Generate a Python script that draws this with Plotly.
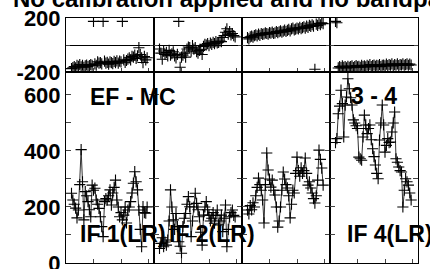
import plotly.graph_objects as go
from plotly.subplots import make_subplots

channels = list(range(4, 60))

panel_labels = ["IF 1(LR)", "IF 2(LR)", "", "IF 4(LR)"]

amp_if1 = [249, 225, 210, 196, 161, 189, 280, 405, 290, 154, 255, 240, 219, 190, 165, 278,
           260, 267, 225, 210, 195, 165, 130, 94, 219, 230, 225, 240, 261, 207, 250, 270,
           296, 225, 200, 165, 180, 154, 171, 200, 143, 189, 200, 219, 250, 285, 326, 290,
           261, 189, 120, 58, 201, 180, 178, 200]
amp_if2 = [52, 70, 90, 58, 75, 64, 82, 150, 261, 200, 154, 120, 177, 130, 76, 60,
           35, 130, 160, 177, 210, 237, 201, 94, 150, 200, 249, 213, 190, 165, 110, 64,
           171, 200, 219, 190, 171, 150, 160, 180, 142, 170, 189, 136, 150, 171, 112, 160,
           207, 58, 120, 165, 180, 189, 170, 165]
amp_if3 = [189, 175, 205, 190, 215, 200, 240, 270, 303, 280, 260, 225, 143, 280, 393, 332,
           300, 271, 296, 260, 243, 200, 128, 150, 200, 260, 325, 300, 280, 268, 240, 161,
           210, 260, 250, 320, 378, 330, 310, 340, 320, 330, 375, 320, 278, 290, 268, 250,
           230, 214, 240, 296, 403, 370, 339, 278]
amp_if4 = [430, 444, 533, 560, 617, 569, 450, 564, 593, 658, 622, 590, 564, 511, 500, 490,
           480, 378, 372, 367, 450, 528, 493, 462, 480, 493, 440, 408, 380, 350, 320, 301,
           439, 500, 564, 493, 396, 420, 444, 430, 432, 468, 500, 539, 372, 360, 343, 330,
           325, 200, 260, 301, 290, 278, 250, 225]

ph_if1 = [-175, -168, -160, -170, -150, -158, -145, -162, -150, -165, -155, -148, -160, -152, -145, -150,
          175, -140, -150, -125, -135, -130, -140, 175, -120, -135, -128, -142, -125, -130, -138, -122,
          -130, -118, -135, -120, -125, 175, -110, -128, -115, -105, -95, -110, -85, -90, -75, -100,
          -80, -20, -70, -95, -130, -85, -110, -95]
ph_if2 = [-30, -60, -105, -45, -70, -55, -80, -40, -75, -65, -50, -80, -95, -70, 175, -165,
          -90, -75, -60, -90, -30, -15, -20, -45, -5, -30, -20, -50, -60, -40, -35, -70,
          -10, 5, 0, 10, -5, 15, 5, 20, 10, 25, 15, 20, 30, 25, 55, 70,
          95, 120, 80, 100, 75, 85, 70, 60]
ph_if3 = [55, 45, 60, 65, 58, 70, 75, 68, 80, 72, 85, 78, 82, 90, 85, 80,
          92, 88, 95, 85, 90, 100, 92, 98, 105, 95, 102, 110, 100, 108, 115, 105,
          120, 125, 112, 118, 125, 120, 130, 122, 128, 135, 125, 140, 130, 145, 138, 150,
          140, -180, 155, 145, 160, 150, 165, 158]
ph_if4 = [175, 165, -170, -160, -168, -155, -165, -160, -170, -158, -165, -160, -155, -168, -160, -152,
          -162, -158, -165, -150, -160, -155, -162, -150, -158, -145, -160, -152, -148, -158, -150, -155,
          -145, -160, -150, -148, -155, -142, -152, -145, -150, -140, -155, -145, -150, -140, -152, -145,
          -148, -140, -150, -145, -140, -150, -142, -148]

amps = [amp_if1, amp_if2, amp_if3, amp_if4]
phases = [ph_if1, ph_if2, ph_if3, ph_if4]

title_text = "No calibration applied and no bandpass applied"
baseline_label = "EF - MC"
baseline_label2 = "3 - 4"

fig = make_subplots(rows=2, cols=4, row_heights=[54, 191],
                    horizontal_spacing=0, vertical_spacing=0)

mk = dict(symbol="cross-thin", size=8, line=dict(color="black", width=1.1), color="black")

for i in range(4):
    fig.add_trace(go.Scatter(x=channels, y=phases[i], mode="markers", marker=mk,
                             showlegend=False), row=1, col=i + 1)
    fig.add_trace(go.Scatter(x=channels, y=amps[i], mode="lines+markers", marker=mk,
                             line=dict(color="#333333", width=1), showlegend=False),
                  row=2, col=i + 1)

tickfont = dict(family="Liberation Sans, Arial, sans-serif", size=22, color="black", weight="bold")

for i in range(4):
    for r in (1, 2):
        fig.update_xaxes(range=[0, 64], tickvals=[20, 40, 60], ticks="inside", ticklen=4,
                         showticklabels=False, showgrid=False, zeroline=False, automargin=False,
                         showline=True, linecolor="black", linewidth=1, mirror=True,
                         row=r, col=i + 1)
    fig.update_yaxes(range=[-200, 200], tickvals=[-200, 0, 200],
                     ticktext=["-200", "", "200"], ticks="inside", ticklen=4,
                     showticklabels=(i == 0), tickfont=tickfont, showgrid=False,
                     ticklabeloverflow="allow",
                     zeroline=True, zerolinecolor="black", zerolinewidth=1, automargin=False,
                     showline=True, linecolor="black", linewidth=1, mirror="allticks",
                     row=1, col=i + 1)
    fig.update_yaxes(range=[0, 682], tickvals=[0, 100, 200, 300, 400, 500, 600],
                     ticktext=["0", "", "200", "", "400", "", "600"], ticks="inside", ticklen=5,
                     showticklabels=(i == 0), tickfont=tickfont, showgrid=False,
                     ticklabeloverflow="allow",
                     zeroline=False, automargin=False,
                     showline=True, linecolor="black", linewidth=1, mirror="allticks",
                     row=2, col=i + 1)

lab_font = dict(family="Liberation Sans, Arial, sans-serif", size=23, color="black", weight="bold")
title_font = dict(family="Liberation Sans, Arial, sans-serif", size=24, color="black", weight="bold")

annots = [
    (0.19, 0.678, baseline_label),
    (0.8736, 0.683, baseline_label2),
    (0.162, 0.12, panel_labels[0]),
    (0.415, 0.12, panel_labels[1]),
    (0.92, 0.12, panel_labels[3]),
]
for x, y, t in annots:
    fig.add_annotation(x=x, y=y, xref="paper", yref="paper", text=t, showarrow=False,
                       xanchor="center", yanchor="middle", font=lab_font)

fig.add_annotation(x=-55 / 352, y=1 + 4 / 245, xref="paper", yref="paper",
                   text=title_text, showarrow=False, xanchor="left", yanchor="bottom",
                   font=title_font)

fig.update_layout(width=430, height=269, margin=dict(l=66, r=12, t=18, b=6),
                  paper_bgcolor="white", plot_bgcolor="white")

fig.write_html("out.html", config={"displayModeBar": False},
               post_script="document.body.style.margin='0px';document.body.style.overflow='hidden';")
